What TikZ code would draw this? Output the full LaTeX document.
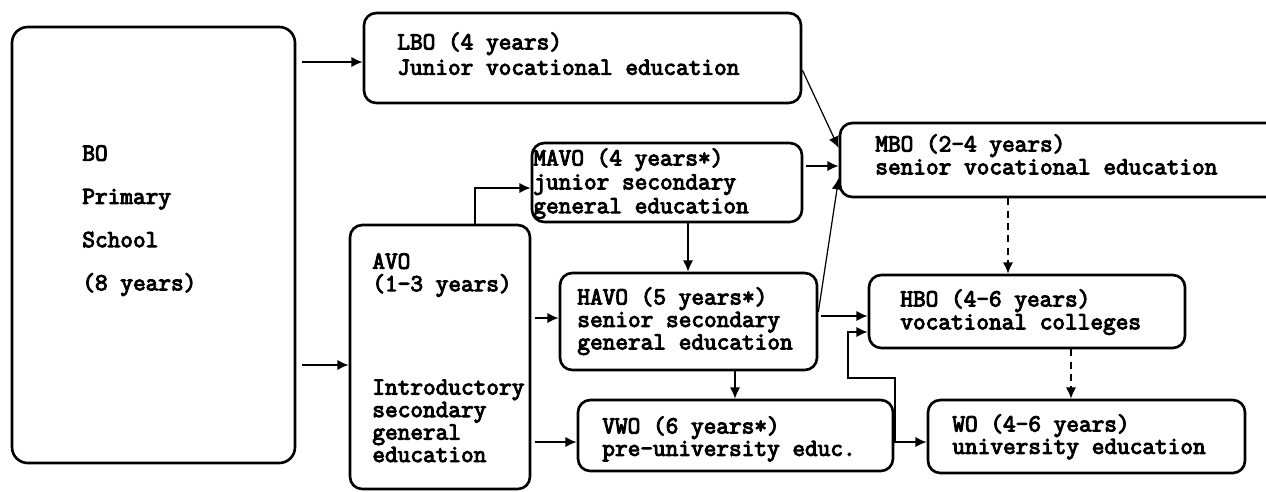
\documentclass[tikz,border=0pt]{standalone}
\usepackage{fontspec}
\newfontfamily\courb{Latin Modern Mono}[FakeBold=4]
\usetikzlibrary{arrows.meta,fit}
\newcommand{\tf}[1]{\fontsize{14}{#1}\selectfont\courb}
\tikzset{
  box/.style={draw, line width=1.5pt, rounded corners=7pt, inner sep=0pt, rectangle},
  txt/.style={anchor=north west, inner sep=0pt, align=left},
  arr/.style={line width=1.1pt, -{Latex[length=6.5pt,width=6pt]}},
  thinarr/.style={line width=0.7pt, -{Latex[length=6.5pt,width=6pt]}},
  dasharr/.style={line width=1.1pt, dash pattern=on 4pt off 3pt, -{Latex[length=6.5pt,width=6pt]}},
}
\begin{document}
\begin{tikzpicture}[x=0.02cm,y=-0.02cm]
\useasboundingbox (0,0) rectangle (1266,491);
\clip (0,0) rectangle (1266,491);
% boxes
\node[box, rounded corners=9pt, fit={(12,27) (295,463)}] (bo) {};
\node[box, fit={(364,13) (801,103)}] (lbo) {};
\node[box, fit={(532,143) (802,222)}] (mavo) {};
\node[box, fit={(350,225) (530,489)}] (avo) {};
\node[box, fit={(560,273) (817,370)}] (havo) {};
\node[box, fit={(578,400) (893,471)}] (vwo) {};
\node[box, fit={(840,123) (1290,197)}] (mbo) {};
\node[box, fit={(869,275) (1185,348)}] (hbo) {};
\node[box, fit={(928,400) (1245,473)}] (wo) {};
% texts
\node[txt, font=\tf{24.6}] (bot) at (82,145) {BO\\Primary\\School\\(8 years)};
\node[txt, font=\tf{14.4}] (lbot) at (397,32) {LBO (4 years)\\Junior vocational education};
\node[txt, font=\tf{13.6}] (mavot) at (533,148) {MAVO (4 years*)\\junior secondary\\general education};
\node[txt, font=\tf{12.8}] (avot) at (372,253) {AVO\\(1-3 years)\\[46pt]Introductory\\secondary\\general\\education};
\node[txt, font=\tf{12.8}] (havot) at (577,287) {HAVO (5 years*)\\senior secondary\\general education};
\node[txt, font=\tf{10.2}] (vwot) at (602,416) {VWO (6 years*)\\pre-university educ.};
\node[txt, font=\tf{13}] (mbot) at (875,134) {MBO (2-4 years)\\senior vocational education};
\node[txt, font=\tf{13}] (hbot) at (900,289) {HBO (4-6 years)\\vocational colleges};
\node[txt, font=\tf{10.8}] (wot) at (952,414) {WO (4-6 years)\\university education};
% connectors
\draw[arr, shorten <=3.4pt] (bo.east |- 0,62) -- (lbo.west |- 0,62);
\draw[arr, shorten <=3.4pt] (bo.east |- 0,365) -- (avo.west |- 0,365);
\draw[arr] (avo.north -| 475,0) |- (mavo.west |- 0,188);
\draw[arr, shorten <=2.3pt] (avo.east |- 0,318) -- (havo.west |- 0,318);
\draw[arr, shorten <=2.3pt] (avo.east |- 0,442) -- (vwo.west |- 0,442);
\draw[arr] (mavo.south -| 688,0) -- (havo.north -| 688,0);
\draw[arr] (havo.south -| 735,0) -- (vwo.north -| 735,0);
\draw[thinarr] (lbo.east |- 0,70) -- (mbo.west |- 0,148);
\draw[arr, shorten <=1.7pt] (mavo.east |- 0,166) -- (mbo.west |- 0,166);
\draw[thinarr] (havo.east |- 0,312) -- (mbo.west |- 0,178);
\draw[arr, shorten <=1.7pt] (havo.east |- 0,316) -- (hbo.west |- 0,316);
\draw[dasharr] (mbo.south -| 1008,0) -- (hbo.north -| 1008,0);
\draw[arr] (vwo.east |- 0,442) -- (wo.west |- 0,442);
\coordinate (turn) at (895,378);
\draw[arr] (turn |- 0,442) -- (turn) -| (848,332) -- (hbo.west |- 0,332);
\draw[dasharr] (hbo.south -| 1071,0) -- (wo.north -| 1071,0);
\end{tikzpicture}
\end{document}
